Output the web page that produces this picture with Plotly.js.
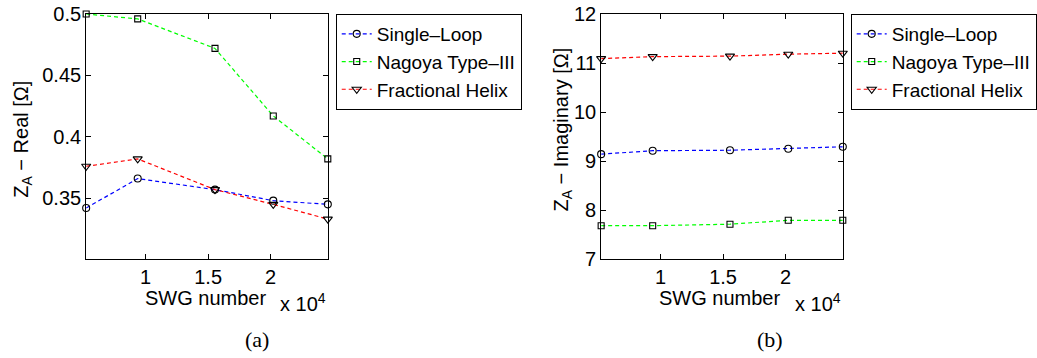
<!DOCTYPE html>
<html>
<head>
<meta charset="utf-8">
<script src="https://cdn.plot.ly/plotly-3.0.1.min.js"></script>
<style>html,body{margin:0;padding:0;background:#fff;}#chart{width:1037px;height:358px;}</style>
</head>
<body>
<div id="chart"></div>
<script>
// ---- data ----
const swgNumber = [5250, 9370, 15550, 20210, 24570];
const seriesNames = ['Single\u2013Loop', 'Nagoya Type\u2013III', 'Fractional Helix'];
const realSingleLoop = [0.342, 0.366, 0.357, 0.348, 0.345];
const realNagoya = [0.500, 0.496, 0.472, 0.417, 0.382];
const realFractional = [0.376, 0.382, 0.357, 0.345, 0.333];
const imagSingleLoop = [9.14, 9.21, 9.22, 9.25, 9.29];
const imagNagoya = [7.68, 7.68, 7.71, 7.79, 7.79];
const imagFractional = [11.09, 11.13, 11.14, 11.18, 11.20];
const xTickVals = [10000, 15000, 20000];
const xTickText = ['1', '1.5', '2'];
const realTickVals = [0.35, 0.4, 0.45, 0.5];
const realTickText = ['0.35', '0.4', '0.45', '0.5'];
const imagTickVals = [7, 8, 9, 10, 11, 12];
const imagTickText = ['7', '8', '9', '10', '11', '12'];

// ---- styling ----
const W = 1037, H = 358;
const sans = 'Liberation Sans, Arial, Helvetica, sans-serif';
const serif = 'Liberation Serif, DejaVu Serif, serif';
const colors = ['#0000ff', '#00ff00', '#ff0000'];
const symbols = ['circle-open', 'square-open', 'triangle-down-open'];
const sizes = [7, 6, 8];

function mk(y, i, xa, ya, leg) {
  return {
    x: swgNumber, y: y, xaxis: xa, yaxis: ya, legend: leg,
    type: 'scatter', mode: 'lines+markers', name: seriesNames[i],
    cliponaxis: false,
    line: {color: colors[i], width: 1.2, dash: '4px,3px'},
    marker: {symbol: symbols[i], size: sizes[i], color: '#000', line: {color: '#000', width: 1.1}}
  };
}

const traces = [
  mk(realSingleLoop, 0, 'x', 'y', 'legend'),
  mk(realNagoya, 1, 'x', 'y', 'legend'),
  mk(realFractional, 2, 'x', 'y', 'legend'),
  mk(imagSingleLoop, 0, 'x2', 'y2', 'legend2'),
  mk(imagNagoya, 1, 'x2', 'y2', 'legend2'),
  mk(imagFractional, 2, 'x2', 'y2', 'legend2')
];

const tickFont = {family: sans, size: 20, color: '#000'};
function xax(l, r, anchor) {
  return {
    domain: [l / W, r / W], anchor: anchor, range: [swgNumber[0], swgNumber[swgNumber.length - 1]],
    tickvals: xTickVals, ticktext: xTickText, tickfont: tickFont,
    showline: true, linecolor: '#000', linewidth: 1, mirror: 'ticks',
    ticks: 'inside', ticklen: 5, tickcolor: '#000', showgrid: false, zeroline: false
  };
}
function yax(anchor, range, tv, tt) {
  return {
    domain: [1 - 259 / H, 1 - 14 / H], anchor: anchor, range: range,
    tickvals: tv, ticktext: tt, tickfont: tickFont,
    showline: true, linecolor: '#000', linewidth: 1, mirror: 'ticks',
    ticks: 'inside', ticklen: 5, tickcolor: '#000', showgrid: false, zeroline: false
  };
}
const legendBase = {
  y: 1 - 14 / H, yanchor: 'top', xanchor: 'left',
  bgcolor: '#fff', bordercolor: '#000', borderwidth: 1,
  font: {family: sans, size: 19, color: '#000'}, itemwidth: 30, tracegroupgap: 0
};

function ann(text, xpx, ypx, opts) {
  return Object.assign({
    text: text, x: xpx / W, y: 1 - ypx / H, xref: 'paper', yref: 'paper',
    showarrow: false, xanchor: 'center', yanchor: 'middle',
    font: {family: sans, size: 20, color: '#000'}
  }, opts || {});
}

const layout = {
  width: W, height: H,
  margin: {l: 0, r: 0, t: 0, b: 0},
  paper_bgcolor: '#fff', plot_bgcolor: '#fff',
  showlegend: true,
  xaxis: xax(87, 331, 'y'),
  yaxis: yax('x', [0.3005, 0.5], realTickVals, realTickText),
  xaxis2: xax(607, 851, 'y2'),
  yaxis2: yax('x2', [7, 12], imagTickVals, imagTickText),
  legend: Object.assign({x: 339 / W}, legendBase),
  legend2: Object.assign({x: 859 / W}, legendBase),
  annotations: [
    ann('Z<sub>A</sub> \u2212 Real [\u03A9]', 22, 139, {textangle: -90}),
    ann('Z<sub>A</sub> \u2212 Imaginary [\u03A9]', 567, 130, {textangle: -90}),
    ann('SWG number', 207, 298),
    ann('SWG number', 727, 298),
    ann('x 10<sup>4</sup>', 331, 302, {xanchor: 'right'}),
    ann('x 10<sup>4</sup>', 851, 302, {xanchor: 'right'}),
    ann('(a)', 260, 339, {font: {family: serif, size: 22, color: '#000'}}),
    ann('(b)', 778, 339, {font: {family: serif, size: 22, color: '#000'}})
  ]
};

Plotly.newPlot('chart', traces, layout, {displayModeBar: false, staticPlot: true});
</script>
</body>
</html>
